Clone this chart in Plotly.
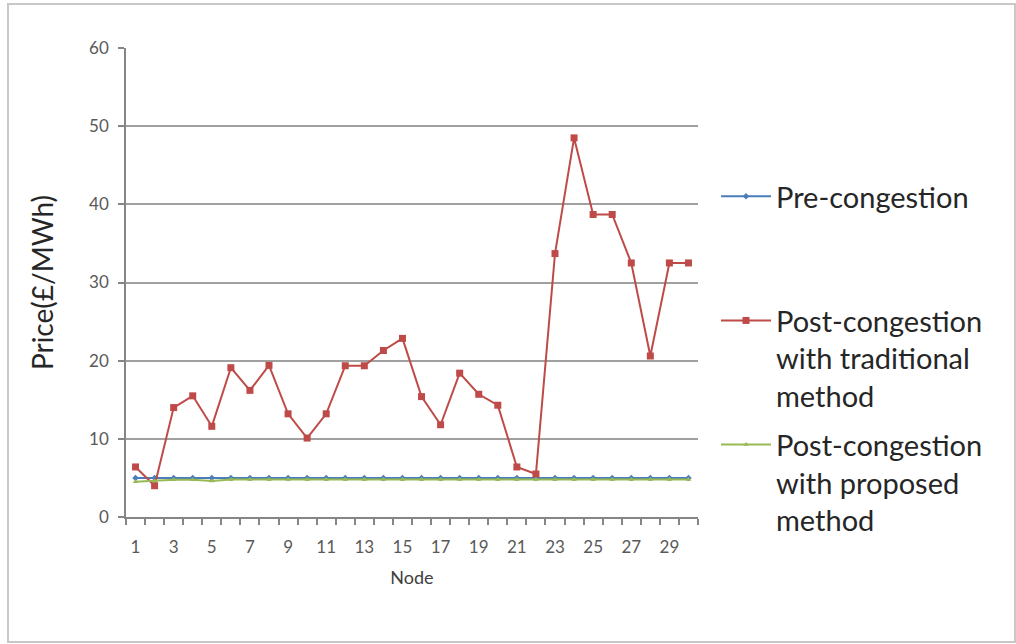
import plotly.graph_objects as go

nodes = list(range(1, 31))
pre_congestion = [5.0] * 30
post_traditional = [6.4, 4.0, 14.0, 15.5, 11.6, 19.1, 16.2, 19.4, 13.2, 10.1,
                    13.2, 19.35, 19.35, 21.3, 22.85, 15.4, 11.8, 18.4, 15.7, 14.3,
                    6.4, 5.5, 33.7, 48.5, 38.7, 38.7, 32.5, 20.6, 32.5, 32.5]
post_proposed = [4.5, 4.6, 4.75, 4.75, 4.6, 4.8, 4.8, 4.8, 4.8, 4.8,
                 4.8, 4.8, 4.8, 4.8, 4.8, 4.8, 4.8, 4.8, 4.8, 4.8,
                 4.8, 4.8, 4.8, 4.8, 4.8, 4.8, 4.8, 4.8, 4.8, 4.8]
x_tick_labels = [str(n) for n in range(1, 30, 2)]
y_ticks = [0, 10, 20, 30, 40, 50, 60]

W, H = 1016, 644
L, R, T, B = 126, 698, 48, 517
pw, ph = R - L, B - T

FONT = "Lato"
TICK_COLOR = "#595959"

fig = go.Figure()
fig.add_trace(go.Scatter(
    x=nodes, y=pre_congestion, mode="lines+markers",
    name="Pre-congestion<br> <br> ", legendgroup="a",
    line=dict(color="#4A7EBB", width=2),
    marker=dict(symbol="diamond", size=5, color="#4A7EBB"),
))
fig.add_trace(go.Scatter(
    x=nodes, y=post_traditional, mode="lines+markers",
    name="Post-congestion<br>with traditional<br>method", legendgroup="b",
    line=dict(color="#BE4B48", width=2),
    marker=dict(symbol="square", size=7, color="#BE4B48"),
))
fig.add_trace(go.Scatter(
    x=nodes, y=post_proposed, mode="lines+markers",
    name="Post-congestion<br>with proposed<br>method", legendgroup="c",
    line=dict(color="#98B954", width=2),
    marker=dict(symbol="triangle-up", size=5, color="#98B954"),
))

# outer chart border
fig.add_shape(type="rect", xref="paper", yref="paper",
              x0=(8 - L) / pw, x1=(1015 - L) / pw,
              y0=(B - 642) / ph, y1=(B - 4) / ph,
              line=dict(color="#C8C8C8", width=2), fillcolor="rgba(0,0,0,0)",
              layer="below")

fig.update_layout(
    width=W, height=H,
    margin=dict(l=L, r=W - R, t=T, b=H - B),
    paper_bgcolor="white", plot_bgcolor="white",
    font=dict(family=FONT, color=TICK_COLOR, size=17),
    showlegend=True,
    legend=dict(
        x=(716 - L) / pw, y=(B - 171) / ph, xanchor="left", yanchor="top",
        font=dict(family=FONT, size=29, color="#262626"),
        valign="top", tracegroupgap=8, itemwidth=50,
        bgcolor="rgba(0,0,0,0)",
    ),
    xaxis=dict(
        range=[0.5, 30.5], tickmode="array",
        tickvals=list(range(1, 30, 2)), ticktext=x_tick_labels,
        ticks="", showgrid=False, zeroline=False,
        showline=True, linecolor="#868686", linewidth=1.5,
        tickfont=dict(size=17, color=TICK_COLOR, family=FONT),
        ticklabelstandoff=14,
        minor=dict(tick0=0.5, dtick=1, ticks="outside", ticklen=6,
                   tickcolor="#868686", tickwidth=1.5, showgrid=False),
        title=dict(text="Node", font=dict(size=18, color="#404040", family=FONT),
                   standoff=15),
    ),
    yaxis=dict(
        range=[0, 60], tickmode="array", tickvals=y_ticks,
        ticks="outside", ticklen=6, tickcolor="#868686", tickwidth=1.5,
        ticklabelstandoff=6,
        showgrid=True, gridcolor="#A0A0A0", gridwidth=1.5,
        zeroline=False, showline=True, linecolor="#868686", linewidth=1.5,
        tickfont=dict(size=17, color=TICK_COLOR, family=FONT),
        title=dict(text="Price(£/MWh)", font=dict(size=28, color="#262626", family=FONT),
                   standoff=27),
    ),
)

fig.write_html("out.html")
